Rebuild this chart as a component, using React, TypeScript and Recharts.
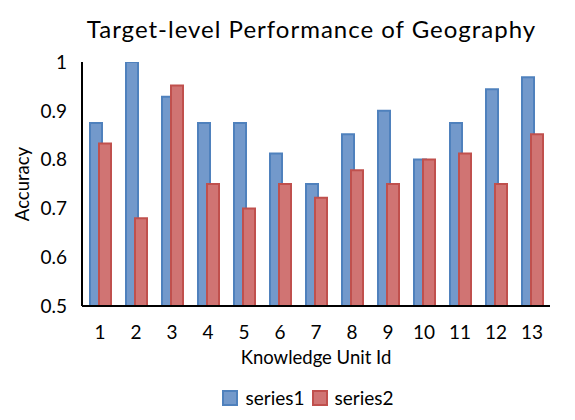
import React from "react";
import { BarChart, Bar, XAxis, YAxis, Legend, Label } from "recharts";

const categories = ["1", "2", "3", "4", "5", "6", "7", "8", "9", "10", "11", "12", "13"];
const series1 = [0.875, 1.0, 0.929, 0.875, 0.875, 0.8125, 0.75, 0.852, 0.9, 0.8, 0.875, 0.944, 0.969];
const series2 = [0.833, 0.68, 0.952, 0.75, 0.7, 0.75, 0.722, 0.778, 0.75, 0.8, 0.8125, 0.75, 0.852];
const yTicks = [0.5, 0.6, 0.7, 0.8, 0.9, 1];
const seriesNames = ["series1", "series2"];

const data = categories.map((c, i) => ({ id: c, series1: series1[i], series2: series2[i] }));

const FONT = "Lato, 'Open Sans', sans-serif";
const BLUE_FILL = "#7399CB";
const BLUE_STROKE = "#4F81BD";
const RED_FILL = "#D07473";
const RED_STROKE = "#C0504D";

const LegendContent = () => (
  <div style={{ display: "flex", justifyContent: "center", alignItems: "center", paddingLeft: 66, fontFamily: FONT, fontSize: 19, color: "#000" }}>
    {seriesNames.map((n, i) => (
      <div key={n} style={{ display: "flex", alignItems: "center", marginRight: i === 0 ? 7 : 0 }}>
        <div style={{ width: 12, height: 12, background: i === 0 ? BLUE_FILL : RED_FILL, border: `2px solid ${i === 0 ? BLUE_STROKE : RED_STROKE}`, marginRight: 7 }} />
        <span>{n}</span>
      </div>
    ))}
  </div>
);

export default function App() {
  return (
    <div style={{ position: "absolute", left: 0, top: 0, width: 575, height: 420, background: "#fff" }}>
      <div style={{ position: "absolute", top: 14, left: 0, width: 575, paddingLeft: 48, boxSizing: "border-box", textAlign: "center", fontFamily: FONT, fontSize: 24, letterSpacing: 1.0, color: "#000" }}>
        Target-level Performance of Geography
      </div>
      <BarChart width={575} height={420} data={data} margin={{ top: 62, right: 25, bottom: 4, left: 0 }} barSize={12} barGap={-3} barCategoryGap={0}>
        <XAxis dataKey="id" axisLine={{ stroke: "#000", strokeWidth: 2 }} tickLine={false} tickSize={0} tickMargin={20} height={80}
          tick={{ fill: "#000", fontSize: 19, fontFamily: FONT }} interval={0}>
          <Label value="Knowledge Unit Id" position="insideTop" offset={45} style={{ fill: "#000", fontSize: 18.5, fontFamily: FONT }} />
        </XAxis>
        <YAxis domain={[0.5, 1]} ticks={yTicks} axisLine={{ stroke: "#000", strokeWidth: 2 }} tickLine={false} tickSize={0} tickMargin={15} width={82}
          tick={{ fill: "#000", fontSize: 19, fontFamily: FONT }} allowDataOverflow>
          <Label value="Accuracy" angle={-90} position="insideLeft" offset={22} style={{ fill: "#000", fontSize: 18.5, fontFamily: FONT, textAnchor: "middle" }} />
        </YAxis>
        <Legend verticalAlign="bottom" height={30} content={<LegendContent />} />
        <Bar dataKey="series1" fill={BLUE_FILL} stroke={BLUE_STROKE} strokeWidth={2} isAnimationActive={false} />
        <Bar dataKey="series2" fill={RED_FILL} stroke={RED_STROKE} strokeWidth={2} isAnimationActive={false} />
      </BarChart>
    </div>
  );
}
